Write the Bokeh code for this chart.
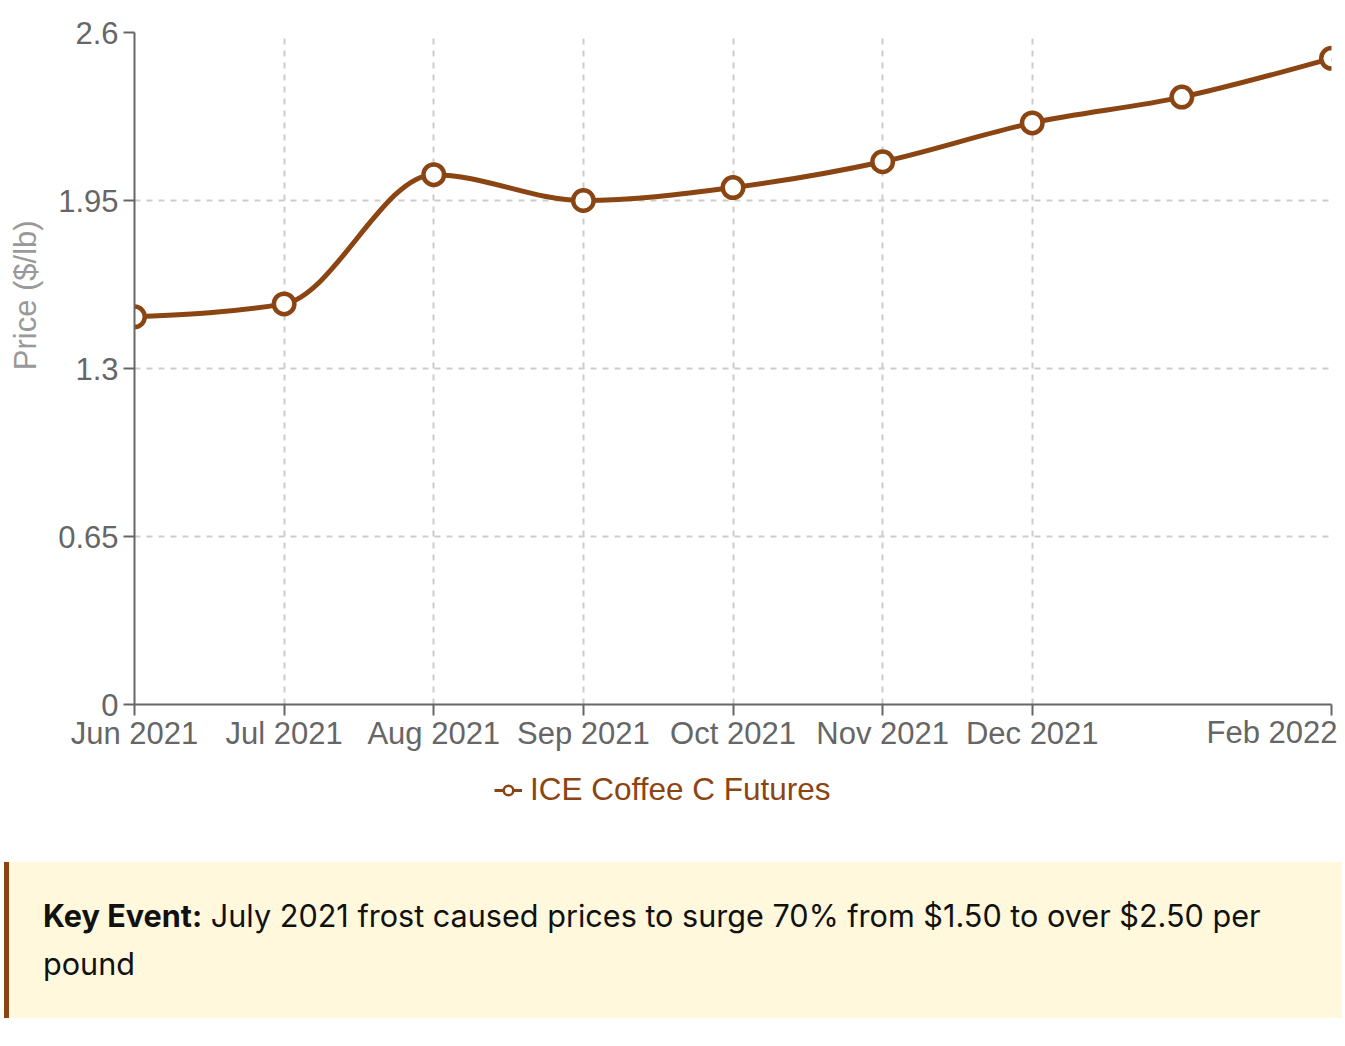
import numpy as np
from bokeh.plotting import figure
from bokeh.models import (FixedTicker, Legend, LegendItem, Label, Div,
                          ColumnDataSource, Range1d)
from bokeh.layouts import column
from bokeh.embed import file_html
from bokeh.resources import INLINE

# ---- data ----
months = ["Jun 2021", "Jul 2021", "Aug 2021", "Sep 2021", "Oct 2021",
          "Nov 2021", "Dec 2021", "Jan 2022", "Feb 2022"]
prices = [1.50, 1.55, 2.05, 1.95, 2.00, 2.10, 2.25, 2.35, 2.50]
y_ticks = [0, 0.65, 1.3, 1.95, 2.6]
shown_month_idx = [0, 1, 2, 3, 4, 5, 6, 8]
y_title = "Price ($/lb)"
series_name = "ICE Coffee C Futures"
note_bold = "Key Event:"
note_text = "July 2021 frost caused prices to surge 70% from $1.50 to over $2.50 per pound"

BROWN = "#8B4513"
FONT = "Liberation Sans"
FRAME_W = 1197

# ---- monotone-x curve (d3 curveMonotoneX) through the data points ----
x = np.arange(len(prices), dtype=float)
y = np.array(prices, dtype=float)
n = len(x)
h = np.diff(x)
s = np.diff(y) / h
t = np.zeros(n)
for i in range(1, n - 1):
    pp = (s[i - 1] * h[i] + s[i] * h[i - 1]) / (h[i - 1] + h[i])
    t[i] = (np.sign(s[i - 1]) + np.sign(s[i])) * min(abs(s[i - 1]), abs(s[i]), 0.5 * abs(pp))
t[0] = (3 * s[0] - t[1]) / 2
t[-1] = (3 * s[-1] - t[-2]) / 2

seg = ColumnDataSource(dict(
    x0=x[:-1], y0=y[:-1], x1=x[1:], y1=y[1:],
    cx0=x[:-1] + h / 3, cy0=y[:-1] + h / 3 * t[:-1],
    cx1=x[1:] - h / 3, cy1=y[1:] - h / 3 * t[1:],
))
pts = ColumnDataSource(dict(x=x, y=y))

# ================= main chart =================
p = figure(frame_width=FRAME_W, frame_height=672,
           x_range=Range1d(0, len(prices) - 1), y_range=Range1d(0, 2.6),
           output_backend="svg", toolbar_location=None,
           min_border_left=134, min_border_right=12,
           min_border_top=32, min_border_bottom=50)
p.outline_line_color = None

for g in (p.xgrid, p.ygrid):
    g.grid_line_color = "#cccccc"
    g.grid_line_dash = "6 6"
    g.grid_line_width = 2
p.xgrid.ticker = FixedTicker(ticks=shown_month_idx)
p.ygrid.ticker = FixedTicker(ticks=y_ticks)

for ax in (p.xaxis[0], p.yaxis[0]):
    ax.axis_line_color = "#666666"
    ax.axis_line_width = 2
    ax.major_tick_line_color = "#666666"
    ax.major_tick_line_width = 2
    ax.major_tick_in = 0
    ax.major_tick_out = 11
    ax.minor_tick_line_color = None
    ax.major_label_text_color = "#666666"
    ax.major_label_text_font = FONT
    ax.major_label_text_font_size = "31px"
p.xaxis.major_label_standoff = 0
p.yaxis.major_label_standoff = 5

p.xaxis.ticker = FixedTicker(ticks=shown_month_idx)
p.xaxis.major_label_overrides = {i: (months[i] if i != len(months) - 1 else "") for i in shown_month_idx}
p.yaxis.ticker = FixedTicker(ticks=y_ticks)
p.yaxis.major_label_overrides = {v: f"{v:g}" for v in y_ticks}
# title starts at the middle of the axis (leading no-break spaces shift it up)
p.yaxis.axis_label = "\u00a0" * 17 + y_title
p.yaxis.axis_label_text_font = FONT
p.yaxis.axis_label_text_font_size = "31px"
p.yaxis.axis_label_text_font_style = "normal"
p.yaxis.axis_label_text_color = "#999999"
p.yaxis.axis_label_standoff = 12

p.bezier(x0="x0", y0="y0", x1="x1", y1="y1", cx0="cx0", cy0="cy0",
         cx1="cx1", cy1="cy1", source=seg, line_color=BROWN, line_width=5)
p.scatter("x", "y", source=pts, size=20.5, fill_color="white",
          line_color=BROWN, line_width=4.5)

# ================= strip under the chart: last tick label + legend =================
STRIP_H = 116
ext = (len(prices) - 1) * (FRAME_W + 12) / FRAME_W
p2 = figure(frame_width=FRAME_W + 12, frame_height=STRIP_H,
            x_range=Range1d(0, ext), y_range=Range1d(-20, -19),
            output_backend="svg", toolbar_location=None,
            x_axis_type=None, y_axis_type=None,
            min_border_left=134, min_border_right=0,
            min_border_top=0, min_border_bottom=0,
            margin=(-40, 0, 0, 0))
p2.outline_line_color = None
p2.background_fill_color = None
p2.border_fill_color = None
p2.grid.visible = False

p2.add_layout(Label(x=len(months) - 1, y=STRIP_H, y_units="screen",
                    text=months[-1], text_align="right", text_baseline="top",
                    x_offset=6, text_font=FONT, text_font_size="31px",
                    text_color="#666666"))

# legend renderers (same data, outside this strip's visible range)
lc = p2.bezier(x0="x0", y0="y0", x1="x1", y1="y1", cx0="cx0", cy0="cy0",
               cx1="cx1", cy1="cy1", source=seg, line_color=BROWN, line_width=3)
ld = p2.scatter("x", "y", source=pts, size=20, fill_color="white",
                line_color=BROWN, line_width=2.5)
legend = Legend(items=[LegendItem(label=series_name, renderers=[lc, ld])],
                location=(360, 22), orientation="horizontal",
                label_text_color=BROWN, label_text_font=FONT,
                label_text_font_size="31.5px", glyph_width=28, glyph_height=24,
                label_standoff=8, padding=0, margin=0,
                border_line_color=None, background_fill_alpha=0)
p2.add_layout(legend, "center")

note = Div(text=(f'<div style="background:#fff8dc;border-left:5px solid {BROWN};'
                 f'padding:30px 40px 30px 34px;font-family:Inter,sans-serif;'
                 f'font-size:30.6px;line-height:48px;color:#111;box-sizing:border-box;width:1338px;">'
                 f'<b>{note_bold}</b> {note_text}</div>'),
           width=1338, margin=(32, 0, 0, 4))

layout = column(p, p2, note, spacing=0)
open("out.html", "w").write(file_html(layout, INLINE))
